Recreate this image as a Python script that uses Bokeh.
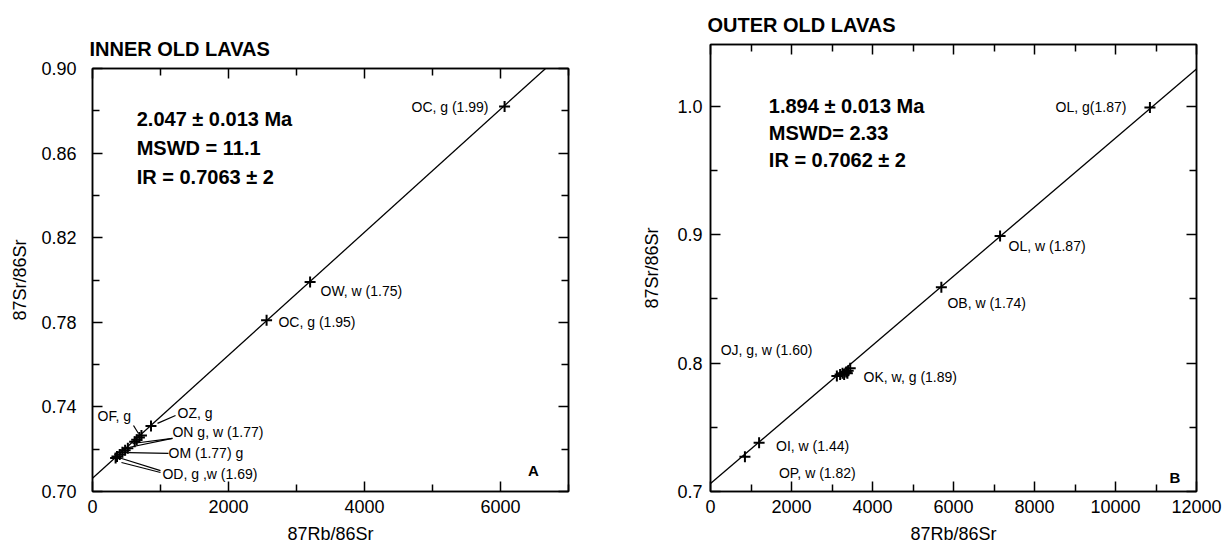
from bokeh.plotting import figure
from bokeh.layouts import row, column
from bokeh.models import (LinearAxis, FixedTicker, NumeralTickFormatter,
                          Range1d, CustomJSTickFormatter)
from bokeh.embed import file_html
from bokeh.resources import INLINE
from bokeh.core.properties import value

FONT = "Liberation Sans"

# ---------------- Panel A : Inner old lavas ----------------
a_title = "INNER OLD LAVAS"
a_x = [6060, 3200, 2560, 860, 720, 690, 650, 620, 520, 480, 440, 400, 360, 340]
a_y = [0.882, 0.799, 0.781, 0.731, 0.7265, 0.7255, 0.7245, 0.7235, 0.7205, 0.7195, 0.7185, 0.7175, 0.7165, 0.7158]
a_fit_x = [0, 6663]
a_fit_y = [0.7063, 0.900]
a_stats = ["2.047 ± 0.013 Ma", "MSWD = 11.1", "IR = 0.7063 ± 2"]
a_stats_x = [650, 650, 650]
a_stats_y = [0.8759, 0.8622, 0.8485]
a_lab_text = ["OC, g (1.99)", "OW, w (1.75)", "OC, g  (1.95)", "OF, g", "OZ, g",
              "ON g, w   (1.77)", "OM (1.77) g", "OD, g ,w (1.69)"]
a_lab_x = [5824, 3353, 2735, 74, 1250, 1176, 1118, 1029]
a_lab_y = [0.8816, 0.795, 0.780, 0.7359, 0.7369, 0.7279, 0.7180, 0.7085]
a_lab_align = ["right", "left", "left", "left", "left", "left", "left", "left"]
a_lead_x0 = [603, 1221, 1176, 1176, 1118, 1000, 1000]
a_lead_y0 = [0.7312, 0.7359, 0.7251, 0.7251, 0.7180, 0.7099, 0.7090]
a_lead_x1 = [676, 956, 588, 529, 529, 382, 426]
a_lead_y1 = [0.7274, 0.7322, 0.7227, 0.7208, 0.7184, 0.7161, 0.7137]
a_xticks = [0, 2000, 4000, 6000]
a_xminor = [1000, 3000, 5000, 7000]
a_yticks = [0.70, 0.74, 0.78, 0.82, 0.86, 0.90]
a_yminor = [0.72, 0.76, 0.80, 0.84, 0.88]

# ---------------- Panel B : Outer old lavas ----------------
b_title = "OUTER OLD LAVAS"
b_x = [10850, 7150, 5700, 3120, 3200, 3260, 3300, 3350, 3380, 3400, 3450, 1200, 850]
b_y = [0.999, 0.899, 0.859, 0.790, 0.791, 0.792, 0.791, 0.793, 0.792, 0.794, 0.796, 0.738, 0.727]
b_fit_x = [0, 12000]
b_fit_y = [0.7062, 1.029]
b_stats = ["1.894 ± 0.013 Ma", "MSWD= 2.33", "IR = 0.7062 ± 2"]
b_stats_x = [1440, 1440, 1440]
b_stats_y = [1.000, 0.979, 0.958]
b_lab_text = ["OL, g(1.87)", "OL, w (1.87)", "OB, w (1.74)", "OK, w, g (1.89)",
              "OJ, g, w (1.60)", "OI, w (1.44)", "OP, w (1.82)"]
b_lab_x = [10270, 7360, 5850, 3780, 250, 1617, 1690]
b_lab_y = [0.999, 0.8908, 0.847, 0.789, 0.810, 0.7354, 0.7146]
b_lab_align = ["right", "left", "left", "left", "left", "left", "left"]
b_xticks = [0, 2000, 4000, 6000, 8000, 10000, 12000]
b_xminor = [1000, 3000, 5000, 7000, 9000, 11000]
b_yticks = [0.7, 0.8, 0.9, 1.0]
b_yminor = [0.75, 0.85, 0.95]

x_title = "87Rb/86Sr"
y_title = "87Sr/86Sr"


def style_axis(ax, ticks, minor, fmt, labels=True, standoff=8):
    ax.ticker = FixedTicker(ticks=ticks, minor_ticks=minor)
    ax.major_tick_in = 10
    ax.major_tick_out = 0
    ax.minor_tick_in = 7
    ax.minor_tick_out = 0
    ax.axis_line_color = "black"
    ax.axis_line_width = 1.5
    ax.major_tick_line_color = "black"
    ax.major_tick_line_width = 1.5
    ax.minor_tick_line_color = "black"
    ax.minor_tick_line_width = 1.5
    ax.major_label_text_font = FONT
    ax.major_label_text_color = "black"
    if labels:
        ax.formatter = NumeralTickFormatter(format=fmt)
        ax.major_label_text_font_size = "18px"
        ax.major_label_standoff = standoff
    else:
        ax.formatter = CustomJSTickFormatter(code="return ''")
        ax.major_label_text_font_size = "0px"
        ax.major_label_standoff = 0


def make_panel(width, bl, br, bt, bb, xr, yr, xt, xm, yt, ym, yfmt, ystand, ytstand, title):
    p = figure(width=width, height=553, output_backend="svg", toolbar_location=None,
               x_range=Range1d(*xr), y_range=Range1d(*yr),
               min_border_left=bl, min_border_right=br, min_border_top=bt,
               min_border_bottom=bb)
    p.grid.visible = False
    p.outline_line_color = "black"
    p.outline_line_width = 1.5
    p.background_fill_color = "white"
    p.border_fill_color = "white"
    style_axis(p.xaxis[0], xt, xm, "0", standoff=8)
    style_axis(p.yaxis[0], yt, ym, yfmt, standoff=ystand)
    p.xaxis[0].axis_label = x_title
    p.yaxis[0].axis_label = y_title
    for ax in (p.xaxis[0], p.yaxis[0]):
        ax.axis_label_text_font = FONT
        ax.axis_label_text_font_size = "18px"
        ax.axis_label_text_font_style = "normal"
        ax.axis_label_text_color = "black"
    p.xaxis[0].axis_label_standoff = 8
    p.yaxis[0].axis_label_standoff = ytstand
    top = LinearAxis()
    style_axis(top, xt, xm, "0", labels=False)
    p.add_layout(top, "above")
    right = LinearAxis()
    style_axis(right, yt, ym, yfmt, labels=False)
    p.add_layout(right, "right")
    p.title.text = title
    p.title.text_font = FONT
    p.title.text_font_size = "20px"
    p.title.text_font_style = "bold"
    p.title.text_color = "black"
    p.title.align = "left"
    p.title.offset = -3
    p.title.standoff = 18
    return p


# Panel A
pa = make_panel(620, 92, 52, 68, 62, (0, 7000), (0.70, 0.90),
                a_xticks, a_xminor, a_yticks, a_yminor, "0.00", 16, 8, a_title)
pa.line(a_fit_x, a_fit_y, line_color="black", line_width=1.3)
pa.segment(a_lead_x0, a_lead_y0, a_lead_x1, a_lead_y1, line_color="black", line_width=1.2)
pa.scatter(a_x, a_y, marker="cross", size=11, line_width=2, line_color="black")
pa.text(a_stats_x, a_stats_y, text=a_stats, text_font=value(FONT), text_font_size="20px",
        text_font_style="bold", text_baseline="middle", text_align="left", text_color="black")
pa.text(a_lab_x, a_lab_y, text=a_lab_text, text_font=value(FONT), text_font_size="14px",
        text_baseline="middle", text_align=a_lab_align, text_color="black")
pa.text([6485], [0.7099], text=["A"], text_font=value(FONT), text_font_size="15px",
        text_font_style="bold", text_baseline="middle", text_align="center", text_color="black")

# Panel B
pb = make_panel(604, 90, 28, 44, 62, (0, 12000), (0.70, 1.048),
                b_xticks, b_xminor, b_yticks, b_yminor, "0.0", 8, 12, b_title)
pb.line(b_fit_x, b_fit_y, line_color="black", line_width=1.3)
pb.scatter(b_x, b_y, marker="cross", size=11, line_width=2, line_color="black")
pb.text(b_stats_x, b_stats_y, text=b_stats, text_font=value(FONT), text_font_size="20px",
        text_font_style="bold", text_baseline="middle", text_align="left", text_color="black")
pb.text(b_lab_x, b_lab_y, text=b_lab_text, text_font=value(FONT), text_font_size="14px",
        text_baseline="middle", text_align=b_lab_align, text_color="black")
pb.text([11470], [0.711], text=["B"], text_font=value(FONT), text_font_size="15px",
        text_font_style="bold", text_baseline="middle", text_align="center", text_color="black")

layout = row(column(pa), column(pb))
open("out.html", "w").write(file_html(layout, INLINE))
